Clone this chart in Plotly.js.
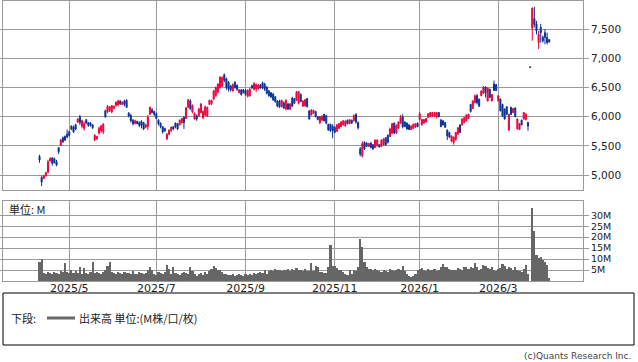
<!DOCTYPE html>
<html><head><meta charset="utf-8">
<script src="https://cdn.plot.ly/plotly-3.0.1.min.js"></script>
<style>html,body{margin:0;padding:0;background:#fff;}#chart{width:638px;height:362px;}</style>
</head><body><div id="chart"></div>
<script>
// Daily candles (trading days, oldest first)
const open = [
5320,4960,4940,4990,5050,5240,5290,5280,5230,5470,5510,5640,5660,5700,5740,5840,5820,5860,5910,6000,
5840,5800,5950,5900,5890,5860,5600,5620,5720,5760,5740,6100,6080,6100,6080,6140,6190,6200,6270,6210,
6270,6280,6060,6020,5940,5880,5920,5900,5920,5900,5820,5830,6040,6120,6090,6050,5940,5890,5830,5800,
5620,5700,5760,5830,5890,5880,5860,5900,5990,5970,6160,6270,6080,5960,6010,6010,6070,5980,6030,6010,
6210,6220,6300,6360,6420,6500,6520,6720,6650,6590,6530,6440,6590,6540,6410,6460,6460,6450,6350,6360,
6530,6470,6470,6480,6540,6580,6560,6510,6440,6410,6390,6340,6270,6270,6170,6240,6130,6220,6130,6320,
6310,6280,6230,6380,6180,6190,6310,6100,6030,6060,6090,6000,5890,5940,6040,6020,5870,5870,5840,5820,
5750,5800,5830,5860,5840,5940,5880,5940,5930,6040,5900,5450,5330,5560,5550,5490,5550,5520,5470,5500,
5520,5490,5520,5640,5680,5660,5720,5890,5720,5800,5890,6000,5910,5890,5860,5780,5800,5820,5890,5950,
5860,5890,5910,5990,6000,6010,6010,5990,6070,5940,5930,5900,5770,5730,5580,5560,5610,5700,5860,5860,
5900,5930,5970,6210,6140,6240,6360,6300,6360,6400,6510,6270,6470,6270,6560,6550,6270,6300,6210,6130,
6170,5770,6160,6070,6150,5790,5780,5940,5960,5950,5900,6855,7520,7680,7590,7270,7530,7360,7440,7360,
7320];
const high = [
5350,4990,5000,5060,5260,5300,5310,5300,5260,5480,5620,5660,5680,5780,5760,5850,5850,5880,5970,6030,
5950,5920,5960,5910,5910,5870,5700,5670,5830,5860,5890,6120,6200,6180,6200,6190,6260,6290,6280,6260,
6290,6300,6080,6050,5960,5950,5930,5920,5940,5910,5880,6030,6175,6150,6100,6070,5960,5900,5840,5810,
5720,5780,5830,5840,5900,5890,5950,5980,6010,6170,6300,6300,6210,6070,6040,6150,6230,6110,6190,6170,
6290,6290,6460,6520,6570,6690,6690,6740,6670,6610,6540,6570,6610,6550,6470,6470,6470,6470,6470,6490,
6550,6590,6570,6560,6560,6600,6580,6520,6460,6420,6400,6350,6280,6290,6290,6260,6300,6230,6230,6340,
6320,6440,6440,6400,6280,6300,6320,6110,6130,6120,6100,6010,6010,6020,6050,6030,5880,5880,5870,5830,
5870,5890,5920,5940,5940,5950,5960,5950,6040,6060,5920,5480,5580,5580,5560,5550,5560,5530,5610,5610,
5530,5610,5630,5650,5700,5810,5890,5900,5870,5920,6030,6040,5920,5900,5870,5850,5880,5890,5900,6080,
5960,5960,5980,6060,6080,6080,6080,6080,6080,5960,5940,5910,5780,5740,5680,5660,5740,5820,5870,5970,
5990,6040,6050,6220,6280,6380,6390,6310,6450,6520,6520,6500,6480,6390,6620,6560,6370,6310,6220,6140,
6180,6050,6170,6150,6160,5970,5890,5950,6080,6060,5910,6855,7870,7880,7640,7470,7590,7390,7500,7440,
7330];
const low = [
5210,4810,4930,4970,5030,5230,5160,5200,5150,5360,5500,5550,5580,5630,5660,5770,5720,5770,5890,5860,
5800,5760,5870,5830,5830,5790,5580,5600,5690,5720,5700,5980,6060,6080,6060,6130,6175,6175,6200,6200,
6180,6150,5990,5900,5850,5870,5870,5820,5800,5770,5800,5770,6030,6060,6010,5960,5850,5800,5710,5740,
5600,5680,5740,5770,5800,5770,5850,5880,5790,5960,6150,6110,6060,5950,5930,6000,6060,5960,6010,6000,
6200,6200,6290,6340,6400,6480,6510,6590,6460,6430,6430,6430,6480,6440,6400,6360,6400,6360,6330,6340,
6480,6450,6420,6460,6480,6470,6440,6380,6340,6320,6270,6240,6160,6150,6160,6130,6110,6110,6110,6170,
6220,6270,6210,6250,6170,6170,6160,5950,6020,6050,5990,5940,5880,5930,5920,5870,5760,5740,5630,5720,
5740,5790,5820,5850,5830,5870,5870,5880,5920,5880,5780,5320,5300,5430,5480,5480,5460,5430,5460,5490,
5470,5480,5510,5500,5540,5650,5700,5700,5700,5790,5880,5800,5820,5780,5770,5770,5790,5810,5820,5940,
5850,5880,5900,5980,5990,6000,6000,5970,5990,5820,5850,5810,5600,5640,5560,5520,5590,5690,5720,5850,
5890,5920,5960,6070,6130,6230,6210,6170,6350,6390,6330,6260,6320,6260,6440,6440,6260,6090,6000,5950,
6030,5760,6030,6060,5990,5780,5770,5850,5950,5940,5760,6845,7300,7530,7410,7160,7270,7270,7240,7240,
7270];
const close = [
5260,4880,4990,5040,5230,5290,5200,5210,5170,5400,5600,5570,5600,5650,5680,5790,5740,5790,5960,5900,
5930,5880,5890,5850,5850,5810,5680,5660,5800,5840,5870,6000,6180,6170,6190,6180,6250,6270,6220,6250,
6210,6160,6010,5930,5880,5930,5880,5850,5850,5790,5860,5990,6160,6070,6040,5970,5880,5830,5740,5760,
5700,5770,5820,5790,5830,5790,5940,5970,5900,6150,6290,6140,6190,6060,5960,6130,6220,6090,6170,6160,
6280,6280,6440,6500,6560,6680,6670,6620,6500,6470,6460,6550,6500,6470,6460,6380,6410,6380,6450,6470,
6490,6570,6550,6540,6490,6490,6470,6400,6360,6340,6290,6260,6180,6170,6280,6150,6280,6130,6220,6180,
6230,6420,6430,6260,6270,6290,6170,5960,6110,6110,6000,5950,6000,6010,5930,5890,5770,5760,5760,5730,
5860,5880,5910,5930,5920,5880,5950,5890,6020,5910,5810,5360,5540,5450,5490,5540,5470,5450,5600,5600,
5480,5600,5620,5520,5560,5790,5880,5720,5850,5910,5990,5830,5830,5790,5780,5840,5870,5880,5830,6050,
5950,5950,5970,6050,6070,6070,6070,6070,6000,5830,5860,5820,5670,5650,5670,5650,5730,5810,5730,5960,
5985,6030,6040,6090,6270,6360,6240,6180,6440,6510,6410,6490,6330,6380,6450,6450,6360,6100,6010,5960,
6040,6040,6040,6140,6000,5960,5880,5860,6070,6040,5840,6845,7860,7580,7470,7410,7440,7300,7360,7270,
7280];
// Daily volume, millions of shares
const volume = [
8.7,10.2,3.5,3.2,4.0,3.6,3.0,4.2,3.8,3.4,4.5,3.9,8.3,4.0,3.8,5.0,3.5,4.6,3.6,6.5,
3.4,5.8,3.7,3.3,4.0,8.6,3.5,4.2,3.8,3.2,4.1,5.2,7.0,8.8,4.0,3.5,3.2,3.9,3.6,3.3,
4.2,3.5,3.8,3.2,4.5,3.4,3.0,4.3,3.6,3.1,3.8,5.0,6.5,4.8,3.3,2.8,4.2,3.5,3.0,4.0,
7.2,5.5,3.4,6.3,3.8,3.0,2.7,3.6,4.2,3.5,3.0,6.5,4.5,3.2,2.5,3.0,3.6,2.8,4.0,3.3,
4.6,5.5,7.0,6.0,4.8,5.2,4.0,3.0,3.4,2.8,2.6,3.0,2.5,2.8,3.1,2.7,2.4,3.0,2.6,3.3,
2.9,3.5,3.2,3.8,4.2,3.6,4.8,3.4,4.5,5.0,4.6,5.5,4.8,5.2,4.4,5.0,4.9,5.3,4.5,5.5,
5.0,6.0,5.0,4.8,4.6,5.5,4.5,4.6,8.0,4.5,7.0,6.5,4.3,4.0,3.5,3.6,6.3,16.2,6.9,6.7,
5.8,5.2,4.8,4.0,3.2,2.9,4.8,3.0,4.8,4.4,6.3,19.2,15.5,8.5,6.3,5.5,5.5,5.0,5.5,5.0,
4.5,4.2,5.0,4.5,4.0,5.5,5.0,4.5,5.0,5.5,5.0,7.0,4.5,3.0,2.5,2.0,2.2,3.0,4.8,5.5,
6.0,5.0,4.5,5.5,5.0,4.8,5.5,4.5,5.0,6.5,7.8,6.3,6.5,5.5,5.0,4.8,5.0,6.0,5.5,5.2,
6.3,6.3,5.5,6.2,5.8,8.0,6.5,5.0,5.5,7.5,6.8,6.0,5.5,6.2,5.0,4.5,5.5,6.0,7.8,6.8,
5.5,6.5,5.8,4.8,6.5,5.0,4.5,4.0,5.5,7.5,3.4,0.2,33.5,23.0,12.0,10.5,11.0,9.5,8.5,7.5,
1.2];
// Index (trading day) of the first session of each labelled month
const monthStartIdx = [14, 55, 97, 139, 179, 216];
const monthLabels = ['2025/5','2025/7','2025/9','2025/11','2026/1','2026/3'];
const priceTicks = [5000, 5500, 6000, 6500, 7000, 7500];
const volTicks = [5, 10, 15, 20, 25, 30];
const volTickLabels = ['5M','10M','15M','20M','25M','30M'];

const day = close.map((_, i) => i);
const RED = '#f0003c', BLUE = '#0a3296', GRID = '#9a9a9a', TXT = '#222';

const traces = [
  {type:'candlestick', x:day, open:open, high:high, low:low, close:close, xaxis:'x', yaxis:'y',
   increasing:{line:{color:RED,width:1}, fillcolor:RED},
   decreasing:{line:{color:BLUE,width:1}, fillcolor:BLUE},
   whiskerwidth:0, hoverinfo:'skip', showlegend:false},
  {type:'bar', x:day, y:volume, xaxis:'x', yaxis:'y2',
   marker:{color:'#666666', line:{width:0}}, hoverinfo:'skip', showlegend:false}
];

const H = 362, PW = 580;
const px = v => (v - 3) / PW;
const py = v => 1 - v / H;

const layout = {
  width:638, height:362, margin:{l:3, r:55, t:0, b:0},
  paper_bgcolor:'#fff', plot_bgcolor:'#fff',
  font:{family:'DejaVu Sans', size:11, color:TXT},
  showlegend:false, bargap:0,
  xaxis:{anchor:'y2', range:[-17.2, 255.9], tickmode:'array', tickvals:monthStartIdx, ticktext:monthLabels,
         showgrid:true, gridcolor:GRID, gridwidth:1, showline:true, linecolor:GRID, linewidth:1, mirror:'all',
         ticks:'', ticklabelstandoff:-3, zeroline:false, rangeslider:{visible:false},
         tickfont:{size:11, color:TXT}, fixedrange:true},
  yaxis:{domain:[py(190), py(1)], side:'right', range:[4744, 7982], tickmode:'array', tickvals:priceTicks,
         tickformat:',d', showgrid:true, gridcolor:GRID, gridwidth:1, showline:true, linecolor:GRID, linewidth:1,
         mirror:'all', ticks:'outside', ticklen:5, tickcolor:GRID, zeroline:false,
         tickfont:{size:10.5, color:TXT}, fixedrange:true},
  yaxis2:{domain:[py(281), py(201)], side:'right', range:[0, 36.5], tickmode:'array', tickvals:volTicks,
         ticktext:volTickLabels, showgrid:true, gridcolor:GRID, gridwidth:1, showline:true, linecolor:GRID,
         linewidth:1, mirror:'all', ticks:'outside', ticklen:5, tickcolor:GRID, zeroline:false,
         tickfont:{size:9.5, color:TXT}, fixedrange:true},
  shapes:[
    {type:'rect', xref:'paper', yref:'paper', x0:px(3), x1:px(634), y0:py(345), y1:py(293),
     line:{color:'#000', width:1}, fillcolor:'rgba(0,0,0,0)'},
    {type:'line', xref:'paper', yref:'paper', x0:px(47), x1:px(75), y0:py(318), y1:py(318),
     line:{color:'#666', width:3}}
  ],
  annotations:[
    {text:'単位: M', xref:'paper', yref:'paper', x:px(7), y:py(209), xanchor:'left', yanchor:'middle',
     showarrow:false, font:{family:'Noto Sans CJK JP', size:11, color:TXT}},
    {text:'下段:', xref:'paper', yref:'paper', x:px(9), y:py(318), xanchor:'left', yanchor:'middle',
     showarrow:false, font:{family:'Noto Sans CJK JP', size:11, color:TXT}},
    {text:'出来高 単位:(M株/口/枚)', xref:'paper', yref:'paper', x:px(77), y:py(318), xanchor:'left', yanchor:'middle',
     showarrow:false, font:{family:'Noto Sans CJK JP', size:11, color:TXT}},
    {text:'(c)Quants Research Inc.', xref:'paper', yref:'paper', x:px(633), y:py(356), xanchor:'right', yanchor:'middle',
     showarrow:false, font:{family:'DejaVu Sans', size:9, color:'#444'}}
  ]
};

Plotly.newPlot('chart', traces, layout, {staticPlot:true, displayModeBar:false});
</script></body></html>
